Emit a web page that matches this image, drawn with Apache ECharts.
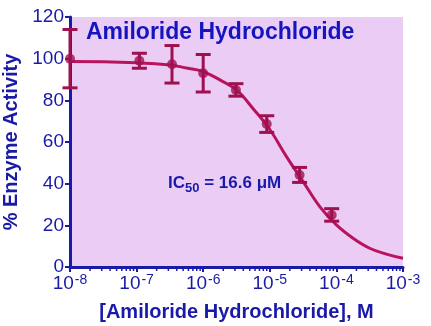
<!DOCTYPE html>
<html>
<head>
<meta charset="utf-8">
<script src="https://cdn.jsdelivr.net/npm/echarts@6/dist/echarts.min.js"></script>
<style>
  html, body { margin: 0; padding: 0; background: #fff; }
  #chartmain { width: 431px; height: 326px; }
</style>
</head>
<body>
<div id="chartmain"></div>
<script>
// measured points (concentration M, % activity, error)
var concs = [1e-8, 1.1e-7, 3.4e-7, 1.0e-6, 3.1e-6, 9e-6, 2.8e-5, 8.5e-5];
var means = [100, 99, 97.3, 93, 85, 68.6, 44.2, 25];
var errs = [14, 3.6, 9, 9, 3, 4, 3.6, 3];

// fitted curve
var fitConc = [1e-8, 3.16e-8, 1e-7, 3.16e-7, 5.62e-7, 1e-6, 1.78e-6, 3.16e-6, 5.62e-6,
    1e-5, 1.78e-5, 3.16e-5, 5.62e-5, 1e-4, 1.78e-4, 3.16e-4, 5.62e-4, 1e-3];
var fitY = [98.6, 98.5, 98, 97, 95.5, 93.8, 89.8, 85, 76, 66, 53, 41, 29, 20.2, 13.8, 9, 6.2, 4.2];

var yTicks = [0, 20, 40, 60, 80, 100, 120];

// minor ticks of the log axis (2..9 x each decade)
var minorTicks = [];
for (var k = -8; k < -3; k++) {
    for (var m = 2; m <= 9; m++) {
        minorTicks.push([m * Math.pow(10, k), 0]);
    }
}

var blue = '#1A1AA8';
var curveColor = '#B8145E';
var dotColor = '#A01050';
var font = 'Liberation Sans';

var points = concs.map(function (c, i) { return [c, means[i]]; });
var bars = concs.map(function (c, i) { return [c, means[i] - errs[i], means[i] + errs[i]]; });
var curve = fitConc.map(function (c, i) { return [c, fitY[i]]; });

var option = {
    animation: false,
    grid: {
        left: 70, right: 28, top: 17, bottom: 59,
        outerBoundsMode: 'none', containLabel: false,
        show: true, backgroundColor: '#EACCF4', borderWidth: 0
    },
    title: {
        text: 'Amiloride Hydrochloride',
        left: 81, top: 16,
        textStyle: { color: '#1414C0', fontSize: 23, fontWeight: 'bold', fontFamily: font }
    },
    xAxis: {
        type: 'log',
        logBase: 10,
        min: 1e-8,
        max: 1e-3,
        name: '[Amiloride Hydrochloride], M',
        nameLocation: 'middle',
        nameGap: 35,
        nameTextStyle: { color: blue, fontSize: 20, fontWeight: 'bold', fontFamily: font },
        axisLine: { lineStyle: { color: blue, width: 3 } },
        axisTick: { inside: false, length: 5, lineStyle: { color: blue, width: 2 } },
        splitLine: { show: false },
        axisLabel: {
            margin: 6,
            formatter: function (v) {
                var e = Math.round(Math.log10(v));
                return '{b|10}{s|' + e + '}';
            },
            rich: {
                b: { color: blue, fontSize: 19, fontFamily: font },
                s: { color: blue, fontSize: 14, fontFamily: font, verticalAlign: 'top', padding: [0, 0, 8, 1] }
            }
        }
    },
    yAxis: {
        type: 'value',
        min: yTicks[0],
        max: yTicks[yTicks.length - 1],
        interval: 20,
        name: '% Enzyme Activity',
        nameLocation: 'middle',
        nameGap: 42,
        nameTextStyle: { color: blue, fontSize: 20, fontWeight: 'bold', fontFamily: font },
        axisLine: { show: true, lineStyle: { color: blue, width: 3 } },
        axisTick: { show: true, length: 5, lineStyle: { color: blue, width: 2 } },
        splitLine: { show: false },
        axisLabel: { color: blue, fontSize: 19, fontFamily: font, margin: 6 }
    },
    graphic: [{
        type: 'text',
        left: 168, top: 175,
        style: {
            text: '{a|IC}{s|50}{a| = 16.6 μM}',
            rich: {
                a: { fill: blue, fontSize: 17, fontWeight: 'bold', fontFamily: font },
                s: { fill: blue, fontSize: 13, fontWeight: 'bold', fontFamily: font, padding: [9, 0, 0, 0] }
            }
        }
    }],
    series: [{
        // minor ticks below the x axis
        type: 'custom',
        data: minorTicks,
        clip: false,
        silent: true,
        z: 1,
        renderItem: function (params, api) {
            var p = api.coord([api.value(0), api.value(1)]);
            return {
                type: 'line',
                shape: { x1: p[0], y1: p[1], x2: p[0], y2: p[1] + 4 },
                style: { stroke: blue, lineWidth: 1.5 }
            };
        }
    }, {
        type: 'line',
        data: curve,
        smooth: 0.4,
        symbol: 'none',
        lineStyle: { color: curveColor, width: 3 },
        z: 2
    }, {
        type: 'custom',
        data: bars,
        clip: false,
        z: 3,
        renderItem: function (params, api) {
            var x = api.value(0);
            var lo = api.coord([x, api.value(1)]);
            var hi = api.coord([x, api.value(2)]);
            var hw = 7.5;
            var st = { stroke: dotColor, lineWidth: 3 };
            return {
                type: 'group',
                children: [
                    { type: 'line', shape: { x1: lo[0], y1: lo[1], x2: hi[0], y2: hi[1] }, style: st },
                    { type: 'line', shape: { x1: lo[0] - hw, y1: lo[1], x2: lo[0] + hw, y2: lo[1] }, style: st },
                    { type: 'line', shape: { x1: hi[0] - hw, y1: hi[1], x2: hi[0] + hw, y2: hi[1] }, style: st }
                ]
            };
        }
    }, {
        type: 'scatter',
        data: points,
        symbol: 'circle',
        symbolSize: 10,
        clip: false,
        itemStyle: { color: dotColor },
        z: 4
    }]
};

var myChart = echarts.init(document.getElementById('chartmain'));
myChart.setOption(option);
</script>
</body>
</html>
